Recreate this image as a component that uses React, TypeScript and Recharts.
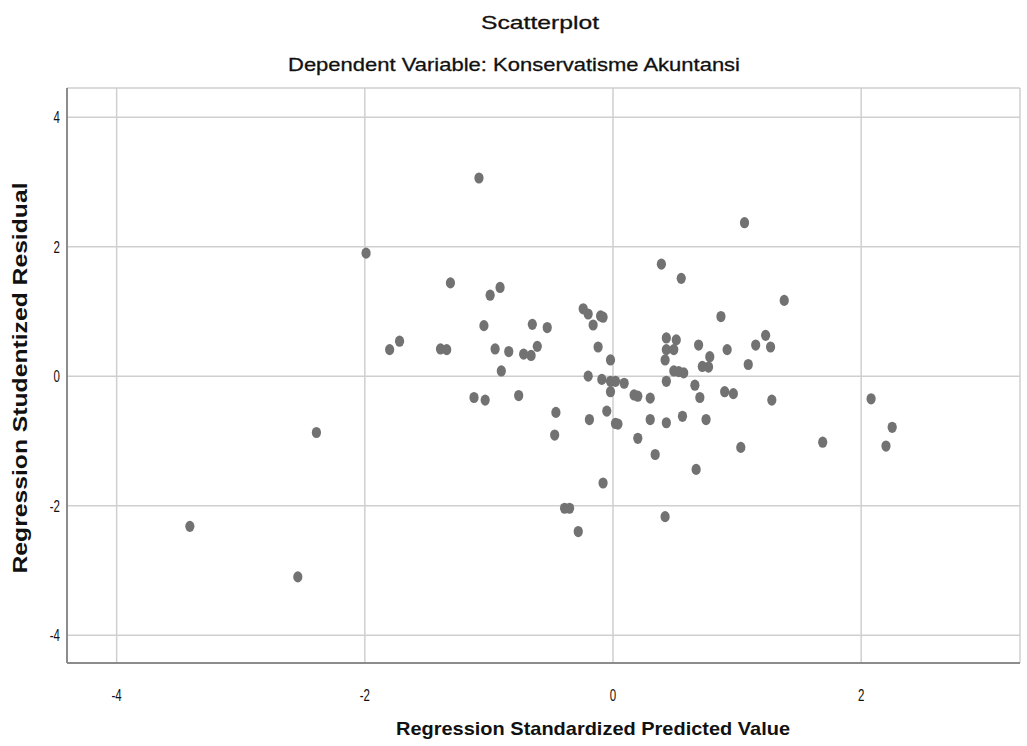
import { ScatterChart, Scatter, XAxis, YAxis, CartesianGrid, Label } from 'recharts';

const predicted = [
  -1.08, -1.99, -1.31, -0.99, -0.91, -1.04, -0.65, -0.53, -1.8, -1.72,
  -1.39, -1.34, -0.95, -0.84, -0.72, -0.66, -0.61, -0.9, -1.12, -1.03,
  -0.76, -2.39, 1.06, 0.39, 0.55, 1.38, -0.24, -0.2, -0.1, -0.08,
  -0.16, 0.87, 0.43, 0.51, 0.43, 0.49, 0.42, 0.69, 0.92, 1.15,
  1.23, 1.27, 0.78, 0.72, 0.77, 1.09, -0.12, -0.02, -0.2, -0.09,
  -0.02, 0.02, 0.09, -0.02, 0.49, 0.53, 0.57, 0.43, 0.66, 0.7,
  0.9, 0.97, 1.28, 0.17, 0.2, 0.3, -0.46, -0.19, -0.05, 0.02,
  0.04, 0.3, 0.43, 0.56, 0.75, -0.47, 0.2, 0.34, 1.03, 0.67,
  -0.08, 1.69, 2.08, 2.25, 2.2, -0.39, -0.35, -0.28, 0.42, -3.41,
  -2.54,
];

const residual = [
  3.06, 1.9, 1.44, 1.25, 1.37, 0.78, 0.8, 0.75, 0.41, 0.54,
  0.42, 0.41, 0.42, 0.38, 0.34, 0.32, 0.46, 0.08, -0.33, -0.37,
  -0.3, -0.87, 2.37, 1.73, 1.51, 1.17, 1.04, 0.96, 0.93, 0.91,
  0.79, 0.92, 0.59, 0.56, 0.41, 0.41, 0.25, 0.48, 0.41, 0.48,
  0.63, 0.45, 0.3, 0.15, 0.14, 0.18, 0.45, 0.25, 0.0, -0.05,
  -0.08, -0.08, -0.11, -0.24, 0.08, 0.07, 0.05, -0.08, -0.14, -0.33,
  -0.24, -0.27, -0.37, -0.29, -0.31, -0.34, -0.56, -0.67, -0.54, -0.73,
  -0.74, -0.67, -0.72, -0.62, -0.67, -0.91, -0.96, -1.21, -1.1, -1.44,
  -1.65, -1.02, -0.35, -0.79, -1.08, -2.04, -2.04, -2.4, -2.17, -2.32,
  -3.1,
];

const xTicks = [-4, -2, 0, 2];
const yTicks = [-4, -2, 0, 2, 4];

const points = predicted.map((x, i) => ({ x, y: residual[i] }));

const FONT = '"Liberation Sans", Arial, sans-serif';

const Dot = (props: any) => (
  <ellipse cx={props.cx} cy={props.cy} rx={4.6} ry={5.6} fill="#727272" />
);

const XTick = (props: any) => (
  <text x={props.x} y={props.y + 12} textAnchor="middle" fontFamily={FONT} fontSize={16}
    fill="#111" transform={`translate(${props.x},0) scale(0.72,1) translate(${-props.x},0)`}>
    {props.payload.value}
  </text>
);

const YTick = (props: any) => (
  <text x={props.x} y={props.y + 6} textAnchor="end" fontFamily={FONT} fontSize={16}
    fill="#111" transform={`translate(${props.x},0) scale(0.72,1) translate(${-props.x},0)`}>
    {props.payload.value}
  </text>
);

export default function App() {
  return (
    <div style={{ position: 'absolute', left: 0, top: 0, width: 1027, height: 746, background: '#fff' }}>
      <svg
        width={1027}
        height={90}
        style={{ position: 'absolute', left: 0, top: 0, pointerEvents: 'none' }}
      >
        <text x={540} y={29} textAnchor="middle" fontFamily={FONT} fontSize={19} fill="#111"
          stroke="#111" strokeWidth={0.3} textLength={118} lengthAdjust="spacingAndGlyphs">
          Scatterplot
        </text>
        <text x={514} y={71} textAnchor="middle" fontFamily={FONT} fontSize={19} fill="#111"
          stroke="#111" strokeWidth={0.3} textLength={452} lengthAdjust="spacingAndGlyphs">
          Dependent Variable: Konservatisme Akuntansi
        </text>
      </svg>
      <ScatterChart width={1027} height={746} margin={{ top: 88, right: 7, bottom: 0, left: 0 }}>
        <CartesianGrid stroke="#cfcfcf" strokeWidth={1.5} horizontal vertical />
        <XAxis
          type="number"
          dataKey="x"
          domain={[-4.4, 3.28]}
          ticks={xTicks}
          height={83}
          tickLine={false}
          tickSize={0}
          tickMargin={26}
          axisLine={{ stroke: '#8c8c8c', strokeWidth: 2 }}
          tick={<XTick />}
        >
          <Label
            content={() => (
              <text x={593} y={735} textAnchor="middle" fontFamily={FONT} fontSize={19}
                fontWeight="bold" fill="#111" textLength={394} lengthAdjust="spacingAndGlyphs">
                Regression Standardized Predicted Value
              </text>
            )}
          />
        </XAxis>
        <YAxis
          type="number"
          dataKey="y"
          domain={[-4.43, 4.45]}
          ticks={yTicks}
          width={67}
          tickLine={false}
          tickSize={0}
          tickMargin={7}
          axisLine={{ stroke: '#8c8c8c', strokeWidth: 2 }}
          tick={<YTick />}
        >
          <Label
            content={() => (
              <text x={0} y={0} transform="translate(27,378) rotate(-90)" textAnchor="middle"
                fontFamily={FONT} fontSize={21} fontWeight="bold" fill="#111"
                textLength={391} lengthAdjust="spacingAndGlyphs">
                Regression Studentized Residual
              </text>
            )}
          />
        </YAxis>
        <Scatter data={points} shape={Dot} isAnimationActive={false} />
      </ScatterChart>
    </div>
  );
}
